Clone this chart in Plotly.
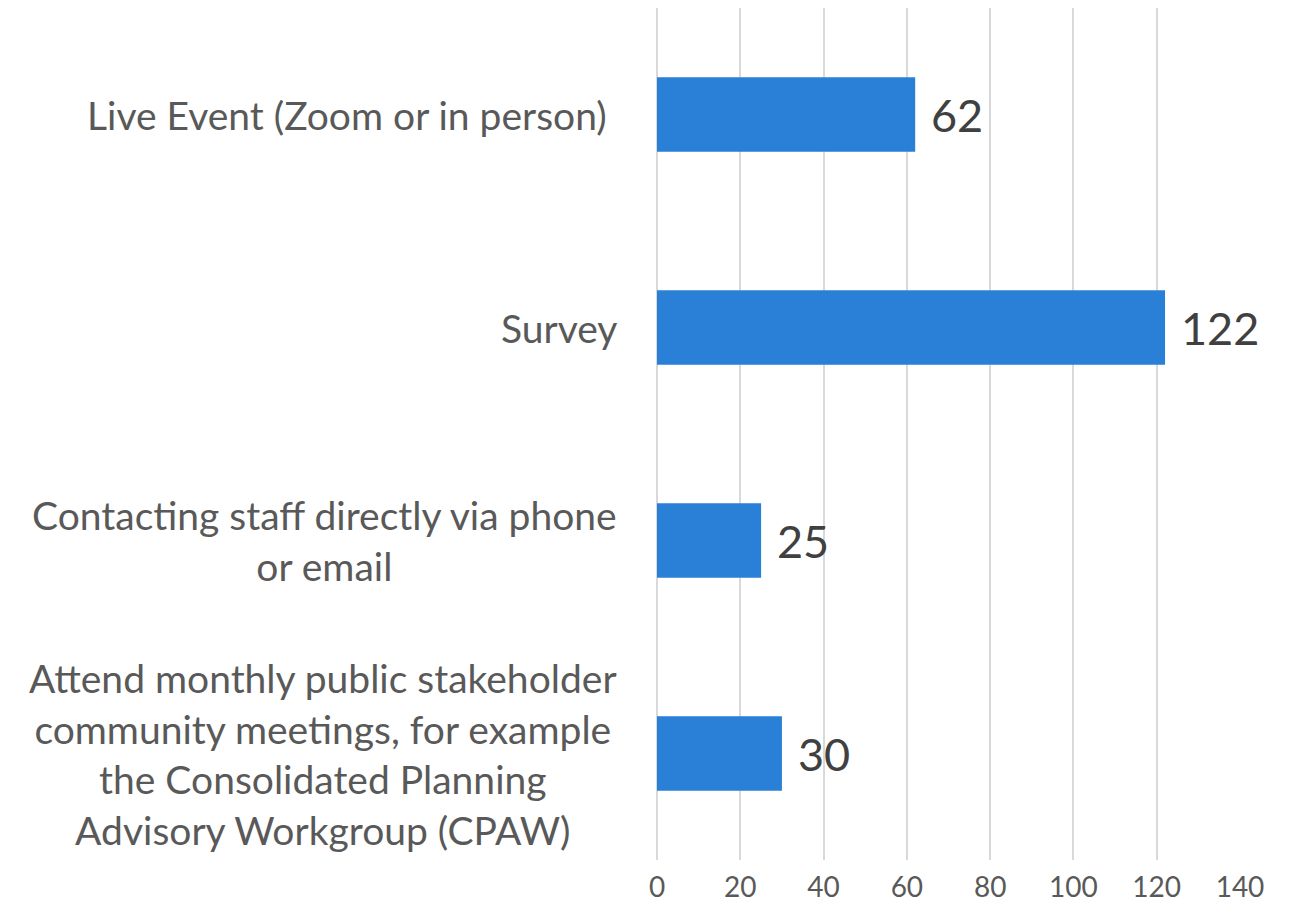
import plotly.graph_objects as go

categories = [
    "Live Event (Zoom or in person)\u00a0",
    "Survey",
    "Contacting staff directly via phone<br>or email",
    "Attend monthly public stakeholder<br>community meetings, for example<br>the Consolidated Planning<br>Advisory Workgroup (CPAW)",
]
values = [62, 122, 25, 30]
x_ticks = [0, 20, 40, 60, 80, 100, 120, 140]

FONT = "Lato, 'Open Sans', sans-serif"

fig = go.Figure(
    go.Bar(
        x=values,
        y=list(range(len(categories))),
        orientation="h",
        marker=dict(color="#2a7fd6", line=dict(width=0)),
        hoverinfo="skip",
    )
)

for i, c in enumerate(categories):
    fig.add_annotation(
        x=0, xref="paper", xanchor="right", xshift=-38,
        y=i, yref="y", yanchor="middle",
        text=c, showarrow=False, align="center",
        font=dict(size=39, color="#595959", family=FONT),
    )

for i, v in enumerate(values):
    fig.add_annotation(
        x=v, xref="x", xanchor="left", xshift=14,
        y=i, yref="y", yanchor="middle",
        text=str(v), showarrow=False,
        font=dict(size=45, color="#404040", family=FONT),
    )

# page body has an 8px margin: figure is offset by (8, 8) in the window
fig.update_layout(
    width=1275, height=895,
    margin=dict(l=649, r=43, t=0, b=43, autoexpand=False),
    paper_bgcolor="white", plot_bgcolor="white",
    bargap=0.65,
    showlegend=False,
    font=dict(family=FONT),
    xaxis=dict(
        range=[0, 140], tickvals=x_ticks, showgrid=True, gridcolor="#d9d9d9",
        gridwidth=2, zeroline=True, zerolinecolor="#d9d9d9", zerolinewidth=2,
        showline=False, ticks="outside", ticklen=2, tickcolor="rgba(0,0,0,0)",
        tickfont=dict(size=28, color="#595959", family=FONT),
        fixedrange=True,
    ),
    yaxis=dict(
        range=[3.5, -0.5], showticklabels=False, showgrid=False,
        zeroline=False, showline=False, ticks="", fixedrange=True,
    ),
)

fig.write_html("out.html")
